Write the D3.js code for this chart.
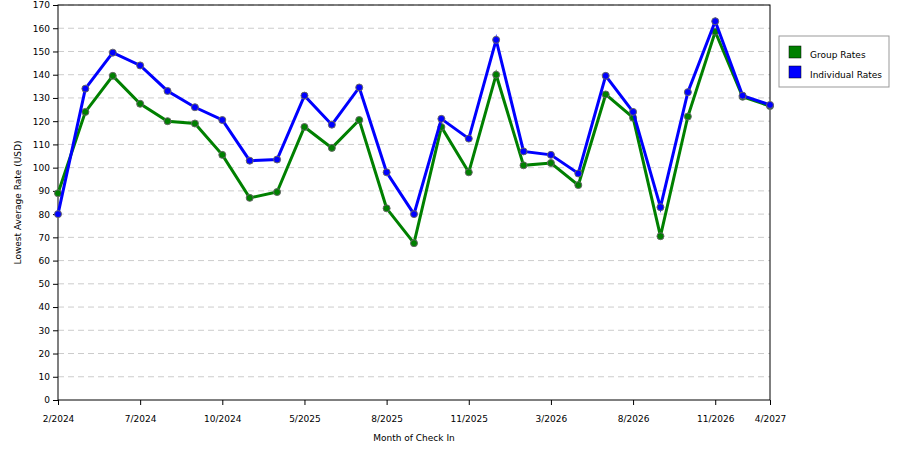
<!DOCTYPE html>
<html><head><meta charset="utf-8">
<script src="https://cdn.jsdelivr.net/npm/d3@7"></script>
<style>body{margin:0;background:#fff}text{font-family:"DejaVu Sans",sans-serif}</style>
</head><body>
<svg id="c" width="900" height="450"></svg>
<script>
const tickLabels = ['2/2024','','','7/2024','','','10/2024','','','5/2025','','','8/2025','','','11/2025','','','3/2026','','','8/2026','','','11/2026','','4/2027'];
const groupRates = [89,124,139.5,127.5,120,119,105.5,87,89.5,117.5,108.5,120.5,82.5,67.5,117.5,98,140,101,102,92.5,131.5,121.5,70.5,122,158.5,130.5,126.5];
const individualRates = [80,134,149.5,144,133,126,120.5,103,103.5,131,118.5,134.5,98,80,121,112.5,155,107,105.5,97.5,139.5,124,83,132.5,163,131,127];
const yTicks = d3.range(0, 171, 10);

const svg = d3.select('#c');
const m = {l: 58, r: 770, t: 5, b: 400};
const x = d3.scaleLinear().domain([0, tickLabels.length - 1]).range([m.l, m.r]);
const y = d3.scaleLinear().domain([0, 170]).range([m.b, m.t]);

// grid
svg.append('g').selectAll('line').data(yTicks.slice(1)).join('line')
    .attr('x1', m.l).attr('x2', m.r).attr('y1', d => y(d)).attr('y2', d => y(d))
    .attr('stroke', '#ccc').attr('stroke-dasharray', '6,4');
svg.append('rect').attr('x', m.l).attr('y', m.t).attr('width', m.r - m.l).attr('height', m.b - m.t)
    .attr('fill', 'none').attr('stroke', '#000');

const yAxis = svg.append('g').attr('transform', `translate(${m.l},0)`)
    .call(d3.axisLeft(y).tickValues(yTicks).tickSize(5).tickPadding(3));
const xAxis = svg.append('g').attr('transform', `translate(0,${m.b})`)
    .call(d3.axisBottom(x).tickValues(d3.range(tickLabels.length).filter(i => tickLabels[i]))
      .tickFormat(i => tickLabels[i]).tickSize(5).tickPadding(11));
[xAxis, yAxis].forEach(a => { a.select('.domain').remove(); a.selectAll('text').attr('font-size', 9).attr('fill', '#000'); });

svg.append('text').attr('x', (m.l + m.r) / 2).attr('y', 441).attr('text-anchor', 'middle')
    .attr('font-size', 9).text('Month of Check In');
svg.append('text').attr('transform', `translate(21,${(m.t + m.b) / 2}) rotate(-90)`)
    .attr('text-anchor', 'middle').attr('font-size', 9).text('Lowest Average Rate (USD)');

const series = [
  {name: 'Group Rates', values: groupRates, color: '#008000'},
  {name: 'Individual Rates', values: individualRates, color: '#0000ff'}
];
const line = d3.line().x((d, i) => x(i)).y(d => y(d));
series.forEach(s => {
  svg.append('path').datum(s.values).attr('d', line).attr('fill', 'none')
      .attr('stroke', s.color).attr('stroke-width', 3);
  svg.append('g').selectAll('circle').data(s.values).join('circle')
      .attr('cx', (d, i) => x(i)).attr('cy', d => y(d)).attr('r', 3.5)
      .attr('fill', s.color).attr('stroke', '#666').attr('stroke-width', 1);
});

// legend
const lg = svg.append('g');
lg.append('rect').attr('x', 779).attr('y', 36).attr('width', 110).attr('height', 51)
    .attr('fill', '#fff').attr('stroke', '#999');
series.forEach((s, i) => {
  lg.append('rect').attr('x', 789).attr('y', 46 + i * 20).attr('width', 12).attr('height', 12)
      .attr('fill', s.color).attr('stroke', '#000').attr('stroke-width', 0.5);
  lg.append('text').attr('x', 810).attr('y', 58 + i * 20).attr('font-size', 9).text(s.name);
});
</script>
</body></html>
